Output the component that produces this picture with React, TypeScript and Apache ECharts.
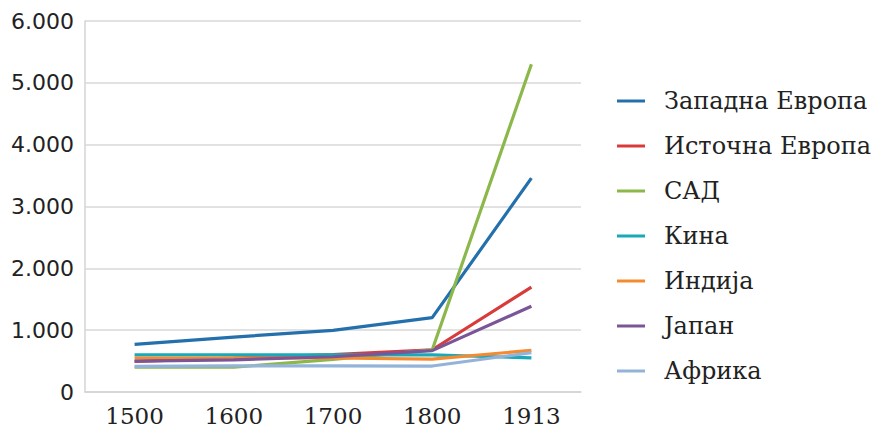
import React, { useEffect, useRef } from "react";
import * as echarts from "echarts";

const years = ["1500", "1600", "1700", "1800", "1913"];
const seriesNames = [
  "Западна Европа",
  "Источна Европа",
  "САД",
  "Кина",
  "Индија",
  "Јапан",
  "Африка",
];
const westernEurope = [771, 889, 998, 1202, 3458];
const easternEurope = [496, 548, 606, 683, 1695];
const usa = [400, 400, 527, 680, 5301];
const china = [600, 600, 600, 600, 552];
const india = [550, 550, 550, 533, 673];
const japan = [500, 520, 570, 669, 1387];
const africa = [414, 422, 421, 420, 637];
const seriesValues = [westernEurope, easternEurope, usa, china, india, japan, africa];
const colors = ["#2470ad", "#d93b3b", "#8cb84b", "#19a9b8", "#f58a2e", "#7a5698", "#93b3d9"];

export default function App() {
  const ref = useRef<HTMLDivElement>(null);
  useEffect(() => {
    if (!ref.current) return;
    const chart = echarts.init(ref.current, null, { renderer: "svg" });
    chart.setOption({
      animation: false,
      backgroundColor: "#ffffff",
      color: colors,
      grid: { left: 85, right: 296, top: 21, bottom: 38 },
      legend: {
        orient: "vertical",
        left: 612,
        top: 84,
        icon: "rect",
        itemWidth: 28,
        itemHeight: 3,
        itemGap: 21,
        data: seriesNames,
        textStyle: {
          fontFamily: "DejaVu Serif",
          fontSize: 24,
          color: "#222",
          padding: [0, 0, 0, 14],
        },
      },
      xAxis: {
        type: "category",
        data: years,
        boundaryGap: true,
        axisLine: { show: true, lineStyle: { color: "#d4d4d4", width: 1.5 } },
        axisTick: { show: false },
        axisLabel: {
          fontFamily: "DejaVu Serif",
          fontSize: 23,
          color: "#222",
          margin: 12,
        },
      },
      yAxis: {
        type: "value",
        min: 0,
        max: 6000,
        interval: 1000,
        axisLine: { show: true, lineStyle: { color: "#d4d4d4", width: 1.5 } },
        axisTick: { show: false },
        splitLine: { lineStyle: { color: "#d9d9d9", width: 1.5 } },
        axisLabel: {
          fontFamily: "DejaVu Sans",
          fontSize: 22,
          color: "#222",
          margin: 11,
          formatter: (v: number) =>
            v === 0 ? "0" : `${Math.floor(v / 1000)}.${String(v % 1000).padStart(3, "0")}`,
        },
      },
      series: seriesNames.map((name, i) => ({
        name,
        type: "line",
        data: seriesValues[i],
        showSymbol: false,
        symbol: "none",
        lineStyle: { width: 3.2, color: colors[i] },
        itemStyle: { color: colors[i] },
      })),
    });
    return () => chart.dispose();
  }, []);
  return (
    <div
      ref={ref}
      style={{ position: "fixed", left: 0, top: 0, width: 877, height: 430 }}
    />
  );
}
